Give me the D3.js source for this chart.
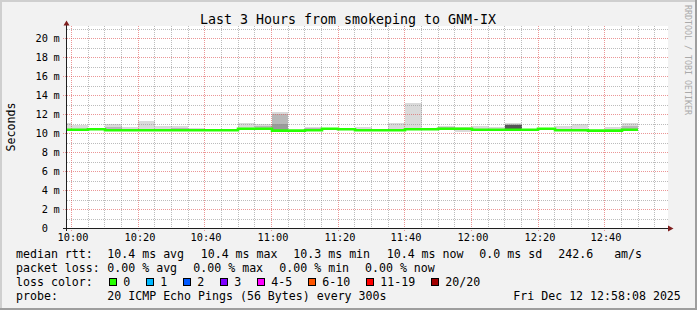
<!DOCTYPE html>
<html>
<head>
<meta charset="utf-8">
<script src="https://cdn.jsdelivr.net/npm/d3@7"></script>
<style>
html,body{margin:0;padding:0;background:#fff}
svg{display:block}
text{font-family:"DejaVu Sans Mono",monospace;fill:#000}
</style>
</head>
<body>
<div class="smoke"></div>
<script>
// data, one value per 5 minute step, first step starts 09:55 (cut by left edge)
const firstStep = new Date(2025, 11, 12, 9, 55, 0);
const medianMs = [10.40,10.40,10.45,10.35,10.35,10.35,10.35,10.35,10.35,10.35,10.35,10.50,10.50,10.30,10.30,10.35,10.50,10.45,10.35,10.35,10.35,10.45,10.45,10.50,10.50,10.40,10.40,10.40,10.40,10.50,10.35,10.35,10.30,10.30,10.40];
const minMs    = [10.32,10.32,10.38,10.28,10.28,10.28,10.28,10.28,10.28,10.28,10.28,10.42,10.42,10.24,10.24,10.28,10.42,10.38,10.28,10.28,10.28,10.38,10.38,10.42,10.15,10.32,10.32,10.32,10.32,10.42,10.28,10.28,10.24,10.24,10.32];
const maxMs    = [11.10,10.90,10.60,10.98,10.65,11.33,10.80,10.80,10.55,10.50,10.40,11.10,10.98,12.24,10.40,10.70,10.56,10.50,10.70,10.40,11.10,13.20,10.50,10.75,10.70,10.80,10.65,11.10,10.45,10.55,10.80,11.05,10.35,10.70,11.10];
// darker smoke bands (null = none)
const upperMs  = [null,null,null,10.70,null,null,null,10.55,null,null,null,null,10.75,12.05,null,10.55,null,null,null,null,null,null,null,10.65,null,null,null,10.95,null,null,null,null,null,null,10.80];
const innerMs  = [null,null,null,null,null,null,null,null,null,null,null,null,null,10.95,null,null,null,null,null,null,null,null,null,null,null,null,null,null,null,null,null,null,null,null,null];
const coreMs   = [null,null,null,null,null,null,null,null,null,null,null,null,null,null,null,null,null,null,null,null,null,null,null,null,null,null,null,10.85,null,null,null,null,null,null,null];

const rttStats  = ["10.4 ms avg","10.4 ms max","10.3 ms min","10.4 ms now","0.0 ms sd","242.6   am/s"];
const lossStats = ["0.00 % avg","0.00 % max","0.00 % min","0.00 % now"];
const lossLabels = ["0","1","2","3","4-5","6-10","11-19","20/20"];
const lossColors = ["#26ff00","#00b8ff","#0059ff","#7e00ff","#ff00ff","#ff5500","#ff0000","#a10000"];
const probeText = "20 ICMP Echo Pings (56 Bytes) every 300s";
const stampText = "Fri Dec 12 12:58:08 2025";

const W = 697, H = 310;
const crisp = v => Math.round(v - 0.5) + 0.5;

var svg = d3.select(".smoke").append("svg")
  .attr("width", W)
  .attr("height", H);

// background + 3d frame
svg.append("rect").attr("width", W).attr("height", H).attr("fill", "#f2f2f2");
svg.append("path").attr("d", "M0,0H697V2H2V310H0Z").attr("fill", "#cfcfcf");
svg.append("path").attr("d", "M697,310H0V308H695V0H697Z").attr("fill", "#9e9e9e");

var t0 = new Date(2025, 11, 12, 9, 58, 30);
var t1 = new Date(2025, 11, 12, 12, 58, 30);
var x = d3.scaleTime().domain([t0, t1]).range([66.5, 666.5]);
var y = d3.scaleLinear().domain([0, 21.3]).range([228.5, 228.5 - 21.3 * 9.5]);

// canvas
svg.append("rect")
  .attr("x", 67).attr("y", 26)
  .attr("width", 601).attr("height", 202.5)
  .attr("fill", "#fff");

svg.append("clipPath").attr("id", "plot")
  .append("rect").attr("x", 67).attr("y", 20).attr("width", 600).attr("height", 209);

var steps = medianMs.map((m, i) => ({
  t: d3.timeMinute.offset(firstStep, 5 * i),
  e: d3.timeMinute.offset(firstStep, 5 * (i + 1)),
  med: m, lo: minMs[i], max: maxMs[i], upper: upperMs[i], inner: innerMs[i], core: coreMs[i]
}));

// smoke, outer band light, inner bands darker
var smoke = svg.append("g").attr("clip-path", "url(#plot)");
[["max", "#dadada"], ["upper", "#b8b8b8"], ["inner", "#9a9a9a"], ["core", "#555555"]].forEach(([k, col]) => {
  smoke.selectAll(null)
    .data(steps.filter(d => d[k] != null))
    .enter().append("rect")
    .attr("x", d => Math.round(x(d.t)))
    .attr("width", d => Math.round(x(d.e)) - Math.round(x(d.t)))
    .attr("y", d => Math.round(y(d[k])))
    .attr("height", d => Math.round(y(d.lo)) - Math.round(y(d[k])))
    .attr("fill", col);
});

// grid
var grid = svg.append("g").attr("fill", "none").attr("stroke-width", 1).attr("stroke-dasharray", "1,1");
var minorCol = "rgba(143,143,143,0.6)", majorCol = "rgba(222,80,80,0.6)";
y.ticks(21).filter(v => v > 0).forEach(v => {
  var major = v % 2 === 0;
  grid.append("line")
    .attr("x1", major ? 63 : 67).attr("x2", 668)
    .attr("y1", crisp(y(v))).attr("y2", crisp(y(v)))
    .attr("stroke", major ? majorCol : minorCol);
});
d3.timeMinute.every(5).range(t0, t1).forEach(t => {
  var major = t.getMinutes() % 20 === 0;
  grid.append("line")
    .attr("x1", crisp(x(t))).attr("x2", crisp(x(t)))
    .attr("y1", 26).attr("y2", major ? 231 : 228)
    .attr("stroke", major ? majorCol : minorCol);
});

// median rtt, coloured by loss (all 0 here)
var medLine = d3.line()
  .x(d => Math.round(x(d[0])))
  .y(d => y(d[1]))
  .curve(d3.curveStepAfter);
var medPts = steps.map(d => [d.t, d.med]);
medPts.push([steps[steps.length - 1].e, medianMs[medianMs.length - 1]]);
svg.append("path")
  .attr("clip-path", "url(#plot)")
  .attr("d", medLine(medPts))
  .attr("fill", "none")
  .attr("stroke", lossColors[0])
  .attr("stroke-width", 2.6);

// axes
svg.append("line").attr("x1", 63).attr("x2", 669).attr("y1", 228.5).attr("y2", 228.5).attr("stroke", "#1f1f1f");
svg.append("line").attr("x1", 66.5).attr("x2", 66.5).attr("y1", 231).attr("y2", 24).attr("stroke", "#1f1f1f");
svg.append("path").attr("d", "M668,225.5L673.5,228.5L668,231.5Z").attr("fill", "#7f1f1f");
svg.append("path").attr("d", "M63.5,25.5L66.5,20.5L69.5,25.5Z").attr("fill", "#7f1f1f");

// y labels
y.ticks(21).filter(v => v % 2 === 0).forEach(v => {
  svg.append("text")
    .attr("x", 47.9).attr("y", y(v) + 3.7)
    .attr("text-anchor", "end")
    .style("font-size", "10.3px")
    .text(v);
  if (v > 0) svg.append("text")
    .attr("x", 53.6).attr("y", y(v) + 3.7)
    .style("font-size", "10.3px")
    .text("m");
});

// x labels
var fmt = d3.timeFormat("%H:%M");
d3.timeMinute.every(20).range(t0, t1).forEach(t => {
  svg.append("text")
    .attr("x", crisp(x(t)) + 1.5).attr("y", 241)
    .attr("text-anchor", "middle")
    .style("font-size", "10.3px")
    .text(fmt(t));
});

// title and side texts
svg.append("text")
  .attr("x", 348).attr("y", 24)
  .attr("text-anchor", "middle")
  .style("font-size", "13.3px")
  .text("Last 3 Hours from smokeping to GNM-IX");

svg.append("text")
  .attr("transform", "translate(15,127) rotate(-90)")
  .attr("text-anchor", "middle")
  .style("font-size", "11.6px")
  .text("Seconds");

svg.append("text")
  .attr("transform", "translate(684.5,5) rotate(90)")
  .style("font-size", "8.3px")
  .style("fill", "#aaaaaa")
  .text("RRDTOOL / TOBI OETIKER");

// legend
var leg = svg.append("g").style("font-size", "11.6px").style("white-space", "pre");
function put(tx, px, py) {
  leg.append("text").attr("x", px).attr("y", py).attr("xml:space", "preserve").text(tx);
}
put("median rtt:", 16, 258.3);
[107.3, 200.7, 293.3, 386.7, 479.3, 558.3].forEach((px, i) => put(rttStats[i], px, 258.3));
put("packet loss:", 16, 272.3);
[107.3, 193.3, 279.3, 365].forEach((px, i) => put(lossStats[i], px, 272.3));
put("loss color:", 16, 286.3);
var bx = 108.7;
lossLabels.forEach((lab, i) => {
  leg.append("rect")
    .attr("x", Math.round(bx) + 0.5).attr("y", 278.5)
    .attr("width", 7).attr("height", 7)
    .attr("fill", lossColors[i])
    .attr("stroke", "#000");
  put(lab, bx + 14.6, 286.3);
  bx += 14.6 + 7 * lab.length + 15.4;
});
put("probe:", 16, 300);
put(probeText, 107.3, 300);
put(stampText, 513.3, 300);
</script>
</body>
</html>
